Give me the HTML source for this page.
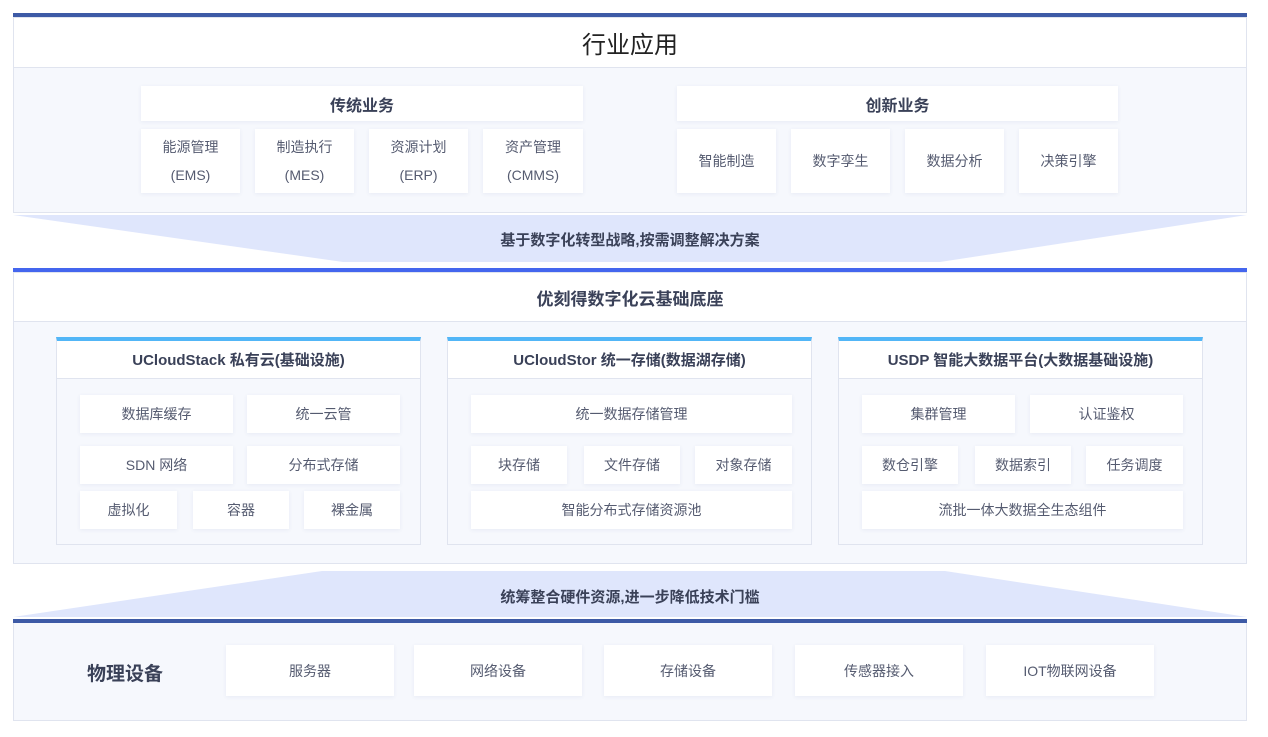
<!DOCTYPE html>
<html><head><meta charset="utf-8"><style>
*{margin:0;padding:0;box-sizing:border-box}
body{width:1268px;height:737px;background:#fff;position:relative;overflow:hidden;font-family:"Liberation Sans","Noto Sans CJK SC",sans-serif;color:#4a5066}
div{position:absolute}
.b{background:#fff;box-shadow:0 1px 4px rgba(60,80,140,0.08);display:flex;align-items:center;justify-content:center;font-size:14px;color:#555b70;text-align:center}
.light{background:#f6f8fd;border:1px solid #e0e4ef}
.hdr{background:#fff;border:1px solid #e0e4ef;display:flex;align-items:center;justify-content:center}
.t{font-weight:bold;color:#3a4158}
</style></head><body>
<!-- top section -->
<div style="left:13px;top:13px;width:1234px;height:4px;background:#3d5aa6"></div>
<div class="hdr" style="left:13px;top:17px;width:1234px;height:51px;font-size:24px;color:#222">行业应用</div>
<div class="light" style="left:13px;top:67px;width:1234px;height:146px"></div>
<div class="b t" style="left:141px;top:86px;width:442px;height:35px;font-size:16px">传统业务</div>
<div class="b" style="left:141px;top:129px;width:99px;height:64px;line-height:28px">能源管理<br>(EMS)</div>
<div class="b" style="left:255px;top:129px;width:99px;height:64px;line-height:28px">制造执行<br>(MES)</div>
<div class="b" style="left:369px;top:129px;width:99px;height:64px;line-height:28px">资源计划<br>(ERP)</div>
<div class="b" style="left:483px;top:129px;width:100px;height:64px;line-height:28px">资产管理<br>(CMMS)</div>
<div class="b t" style="left:677px;top:86px;width:441px;height:35px;font-size:16px">创新业务</div>
<div class="b" style="left:677px;top:129px;width:99px;height:64px">智能制造</div>
<div class="b" style="left:791px;top:129px;width:99px;height:64px">数字孪生</div>
<div class="b" style="left:905px;top:129px;width:99px;height:64px">数据分析</div>
<div class="b" style="left:1019px;top:129px;width:99px;height:64px">决策引擎</div>
<!-- trapezoid 1 -->
<svg style="position:absolute;left:0;top:0" width="1268" height="737">
<polygon points="13,215 1247,215 940,262 343,262" fill="#dfe6fc"/>
<polygon points="322,571 945,571 1247,617 13,617" fill="#dfe6fc"/>
</svg>
<div class="t" style="left:13px;top:229px;width:1234px;text-align:center;font-size:15px">基于数字化转型战略,按需调整解决方案</div>
<!-- middle -->
<div style="left:13px;top:268px;width:1234px;height:4px;background:#4466ee"></div>
<div class="hdr t" style="left:13px;top:272px;width:1234px;height:50px;font-size:17px">优刻得数字化云基础底座</div>
<div class="light" style="left:13px;top:321px;width:1234px;height:243px"></div>

<div class="light" style="left:56px;top:337px;width:365px;height:208px;border-top:4px solid #52b6f7"></div>
<div class="hdr t" style="left:56px;top:341px;width:365px;height:38px;font-size:15px;border-top:none">UCloudStack 私有云(基础设施)</div>
<div class="b" style="left:80px;top:395px;width:153px;height:38px">数据库缓存</div>
<div class="b" style="left:247px;top:395px;width:153px;height:38px">统一云管</div>
<div class="b" style="left:80px;top:446px;width:153px;height:38px">SDN 网络</div>
<div class="b" style="left:247px;top:446px;width:153px;height:38px">分布式存储</div>
<div class="b" style="left:80px;top:491px;width:97px;height:38px">虚拟化</div>
<div class="b" style="left:193px;top:491px;width:96px;height:38px">容器</div>
<div class="b" style="left:304px;top:491px;width:96px;height:38px">裸金属</div>

<div class="light" style="left:447px;top:337px;width:365px;height:208px;border-top:4px solid #52b6f7"></div>
<div class="hdr t" style="left:447px;top:341px;width:365px;height:38px;font-size:15px;border-top:none">UCloudStor 统一存储(数据湖存储)</div>
<div class="b" style="left:471px;top:395px;width:321px;height:38px">统一数据存储管理</div>
<div class="b" style="left:471px;top:446px;width:96px;height:38px">块存储</div>
<div class="b" style="left:584px;top:446px;width:96px;height:38px">文件存储</div>
<div class="b" style="left:695px;top:446px;width:97px;height:38px">对象存储</div>
<div class="b" style="left:471px;top:491px;width:321px;height:38px">智能分布式存储资源池</div>

<div class="light" style="left:838px;top:337px;width:365px;height:208px;border-top:4px solid #52b6f7"></div>
<div class="hdr t" style="left:838px;top:341px;width:365px;height:38px;font-size:15px;border-top:none">USDP 智能大数据平台(大数据基础设施)</div>
<div class="b" style="left:862px;top:395px;width:153px;height:38px">集群管理</div>
<div class="b" style="left:1030px;top:395px;width:153px;height:38px">认证鉴权</div>
<div class="b" style="left:862px;top:446px;width:96px;height:38px">数仓引擎</div>
<div class="b" style="left:975px;top:446px;width:96px;height:38px">数据索引</div>
<div class="b" style="left:1086px;top:446px;width:97px;height:38px">任务调度</div>
<div class="b" style="left:862px;top:491px;width:321px;height:38px">流批一体大数据全生态组件</div>

<div class="t" style="left:13px;top:586px;width:1234px;text-align:center;font-size:15px">统筹整合硬件资源,进一步降低技术门槛</div>
<!-- bottom -->
<div style="left:13px;top:619px;width:1234px;height:4px;background:#3d5aa6"></div>
<div class="light" style="left:13px;top:623px;width:1234px;height:98px;border-top:none"></div>
<div class="t" style="left:60px;top:659px;width:130px;text-align:center;font-size:19px">物理设备</div>
<div class="b" style="left:226px;top:645px;width:168px;height:51px">服务器</div>
<div class="b" style="left:414px;top:645px;width:168px;height:51px">网络设备</div>
<div class="b" style="left:604px;top:645px;width:168px;height:51px">存储设备</div>
<div class="b" style="left:795px;top:645px;width:168px;height:51px">传感器接入</div>
<div class="b" style="left:986px;top:645px;width:168px;height:51px">IOT物联网设备</div>
</body></html>
